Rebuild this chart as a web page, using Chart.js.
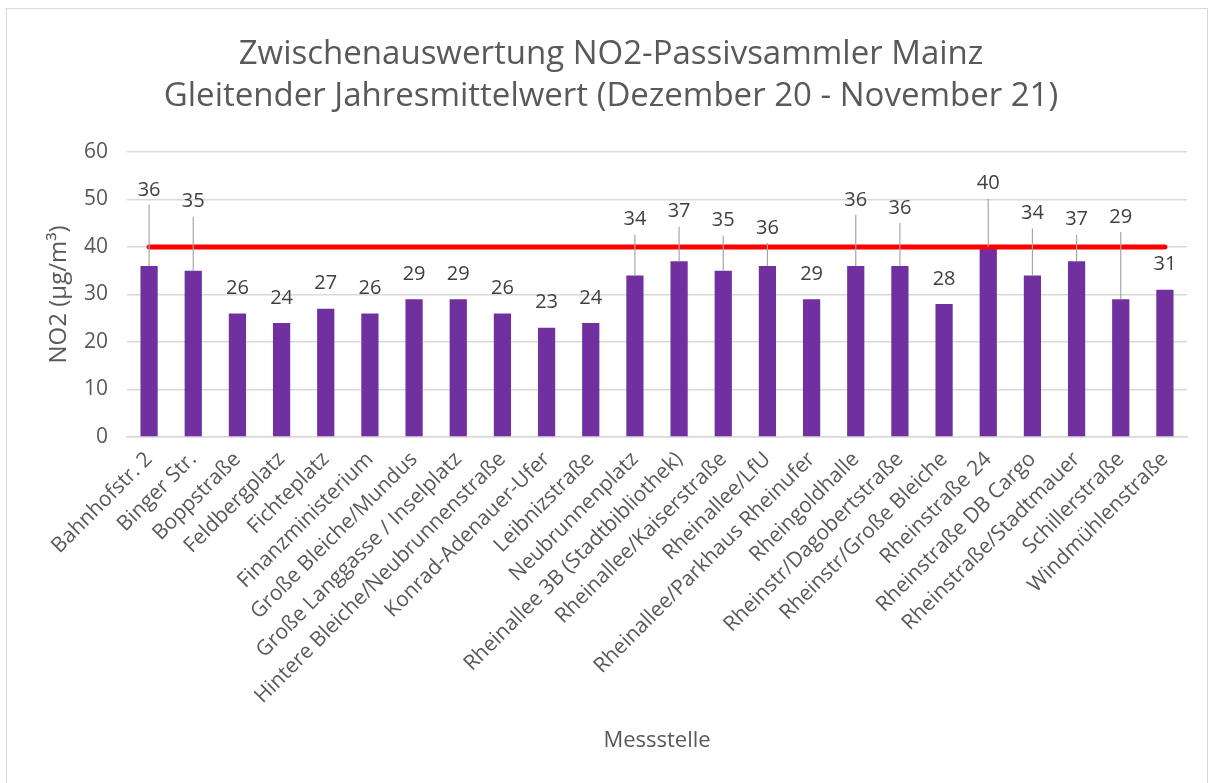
<!DOCTYPE html>
<html>
<head>
<meta charset="utf-8">
<script src="https://cdn.jsdelivr.net/npm/chart.js@4.4.1/dist/chart.umd.min.js"></script>
<style>
  body { margin: 0; background: #fff; }
  #wrap { position: absolute; left: 6px; top: 8px; width: 1200px; height: 800px; border: 1px solid #d9d9d9; }
</style>
</head>
<body>
<div id="wrap"><canvas id="chart" width="1200" height="775"></canvas></div>
<script>
var stations = [
  "Bahnhofstr. 2", "Binger Str.", "Boppstraße", "Feldbergplatz", "Fichteplatz",
  "Finanzministerium", "Große Bleiche/Mundus", "Große Langgasse / Inselplatz",
  "Hintere Bleiche/Neubrunnenstraße", "Konrad-Adenauer-Ufer", "Leibnizstraße",
  "Neubrunnenplatz", "Rheinallee 3B (Stadtbibliothek)", "Rheinallee/Kaiserstraße",
  "Rheinallee/LfU", "Rheinallee/Parkhaus Rheinufer", "Rheingoldhalle",
  "Rheinstr/Dagobertstraße", "Rheinstr/Große Bleiche", "Rheinstraße 24",
  "Rheinstraße DB Cargo", "Rheinstraße/Stadtmauer", "Schillerstraße", "Windmühlenstraße"
];
var no2Values = [36, 35, 26, 24, 27, 26, 29, 29, 26, 23, 24, 34, 37, 35, 36, 29, 36, 36, 28, 40, 34, 37, 29, 31];
var limitValue = 40;
var limitLine = stations.map(function() { return limitValue; });
// where the moved data labels sit (in µg/m³), null = default place above the bar
var labelHeights = [52, 49.5, null, null, null, null, null, null, null, null, null, 45.7,
  47.4, 45.5, 44, null, 49.9, 48.2, null, 53.3, 47, 45.7, 46.3, null];

var grey = "#595959";
var font = "'Open Sans', 'Liberation Sans', sans-serif";

var dataLabels = {
  id: "dataLabels",
  afterDatasetsDraw: function(chart) {
    var ctx = chart.ctx;
    var meta = chart.getDatasetMeta(1);
    var yScale = chart.scales.y;
    ctx.save();
    ctx.font = "20px " + font;
    ctx.fillStyle = "#404040";
    ctx.textAlign = "center";
    ctx.textBaseline = "middle";
    meta.data.forEach(function(bar, i) {
      var ly;
      if (labelHeights[i] === null) {
        ly = bar.y - 25;
      } else {
        ly = yScale.getPixelForValue(labelHeights[i]);
        // leader line from label down to the bar
        ctx.strokeStyle = "#a6a6a6";
        ctx.lineWidth = 1.2;
        ctx.beginPath();
        ctx.moveTo(bar.x, ly + 15);
        ctx.lineTo(bar.x, bar.y);
        ctx.stroke();
      }
      ctx.fillText(String(no2Values[i]), bar.x, ly);
    });
    ctx.restore();
  }
};

new Chart(document.getElementById("chart"), {
  data: {
    labels: stations,
    datasets: [
      {
        type: "line",
        data: limitLine,
        borderColor: "#ff0000",
        borderWidth: 5,
        borderCapStyle: "round",
        pointRadius: 0,
        order: 0
      },
      {
        type: "bar",
        data: no2Values,
        backgroundColor: "#7030a0",
        categoryPercentage: 1,
        barPercentage: 0.39,
        order: 1
      }
    ]
  },
  options: {
    responsive: false,
    animation: false,
    layout: { padding: { left: 28, right: 20, top: 0, bottom: 0 } },
    plugins: {
      legend: { display: false },
      tooltip: { enabled: false },
      title: {
        display: true,
        text: ["Zwischenauswertung NO2-Passivsammler Mainz", "Gleitender Jahresmittelwert (Dezember 20 - November 21)"],
        color: grey,
        font: { family: font, size: 33, weight: "normal", lineHeight: 1.27 },
        padding: { top: 25, bottom: 34 }
      }
    },
    scales: {
      x: {
        grid: { display: false },
        border: { color: "#d9d9d9", width: 1.5 },
        ticks: { color: grey, font: { family: font, size: 21 }, minRotation: 45, maxRotation: 45, autoSkip: false, padding: 2 },
        title: { display: true, text: "Messstelle", color: grey, font: { family: font, size: 22 }, padding: { top: 0, bottom: 30 } },
        afterFit: function(scale) { scale.height = 347; }
      },
      y: {
        min: 0,
        max: 60,
        ticks: { stepSize: 10, color: grey, font: { family: font, size: 21 }, padding: 19 },
        grid: { color: "#d9d9d9", lineWidth: 1.5, drawTicks: false },
        border: { display: false },
        title: { display: true, text: "NO2 (µg/m³)", color: grey, font: { family: font, size: 24 }, padding: { top: 10, bottom: 0 } },
        afterFit: function(scale) { scale.width = 92; }
      }
    }
  },
  plugins: [dataLabels]
});
</script>
</body>
</html>
